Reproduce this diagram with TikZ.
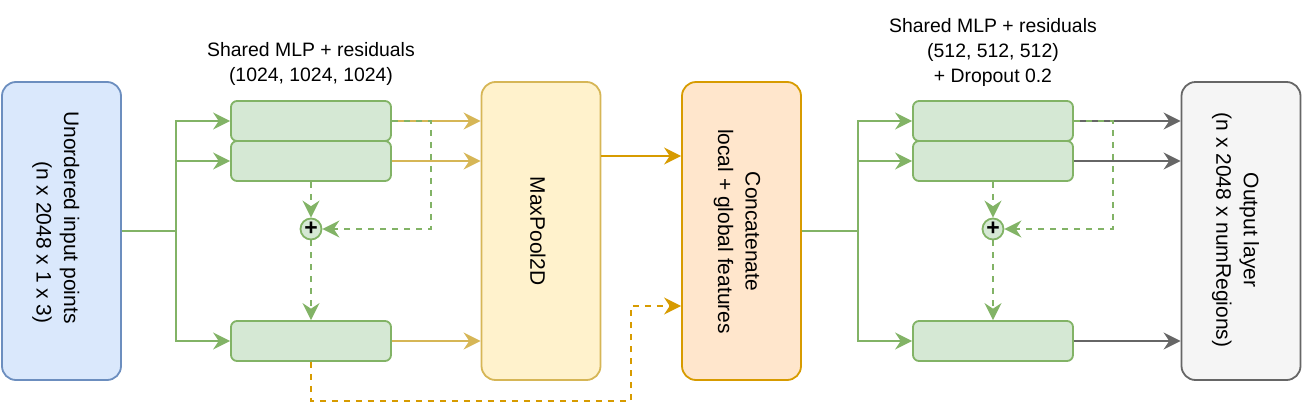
\documentclass[tikz,border=0pt]{standalone}
\usepackage{fontspec}
\setmainfont{Liberation Sans}
\usetikzlibrary{arrows.meta}
\definecolor{bluef}{HTML}{DAE8FC}
\definecolor{blued}{HTML}{6C8EBF}
\definecolor{greenf}{HTML}{D5E8D4}
\definecolor{greend}{HTML}{82B366}
\definecolor{yellowf}{HTML}{FFF2CC}
\definecolor{yellowd}{HTML}{D6B656}
\definecolor{orangef}{HTML}{FFE6CC}
\definecolor{oranged}{HTML}{D79B00}
\definecolor{grayf}{HTML}{F5F5F5}
\definecolor{grayd}{HTML}{666666}
\begin{document}
\begin{tikzpicture}[x=0.5pt,y=-0.5pt,
  >={Stealth[length=8.5pt,width=8.5pt,inset=2.8pt]},
  line width=0.9pt,
  bigbox/.style={draw, rounded corners=7pt, minimum width=59.5pt, minimum height=149pt, inner sep=0pt},
  mlp/.style={draw=greend, fill=greenf, rounded corners=3pt, minimum width=80pt, minimum height=20pt, inner sep=0pt},
  plusnode/.style={circle, draw=greend, fill=greenf, minimum size=10.5pt, inner sep=0pt, font=\fontsize{11.5}{12}\selectfont\bfseries},
  vtext/.style={rotate=-90, align=center, inner sep=0pt, font=\fontsize{10.5}{13.8}\selectfont},
  lbl/.style={align=center, inner sep=0pt, font=\fontsize{9.7}{12.5}\selectfont},
  gline/.style={draw=greend},
  gdash/.style={draw=greend, dash pattern=on 3pt off 3pt},
  yline/.style={draw=yellowd},
  oline/.style={draw=oranged},
  odash/.style={draw=oranged, dash pattern=on 3pt off 3pt},
  kline/.style={draw=grayd}
]
\path[use as bounding box] (0,0) rectangle (1302,418);

% big boxes
\node[bigbox, draw=blued, fill=bluef] (in) at (61.5,231) {};
\node[vtext, align=right] (intext) at (55.8,217.4) {Unordered input points\\(n x 2048 x 1 x 3)};
\node[bigbox, draw=yellowd, fill=yellowf] (mp) at (541,231) {};
\node[vtext] (mptext) at (538,231) {MaxPool2D};
\node[bigbox, draw=oranged, fill=orangef] (cc) at (741.5,231) {};
\node[vtext] (cctext) at (737,231.5) {Concatenate\\local + global features};
\node[bigbox, draw=grayd, fill=grayf] (out) at (1241,231) {};
\node[vtext] (outtext) at (1235.5,230) {Output layer\\(n x 2048 x numRegions)};

% MLP blocks
\node[mlp] (m1) at (311,121) {};
\node[mlp] (m2) at (311,161) {};
\node[mlp] (m3) at (311,341) {};
\node[plusnode] (p1) at (311,229) {+};
\node[mlp] (r1) at (993,121) {};
\node[mlp] (r2) at (993,161) {};
\node[mlp] (r3) at (993,341) {};
\node[plusnode] (p2) at (993,229) {+};

% labels
\node[lbl] (lab1) at (311,64.4) {Shared MLP + residuals\\(1024, 1024, 1024)};
\node[lbl] (lab2) at (993,52.5) {Shared MLP + residuals\\(512, 512, 512)\\+ Dropout 0.2};

% helper coordinates
\coordinate (j1) at (176,231);
\coordinate (k1) at (431,121);
\coordinate (d1) at (631,401);
\coordinate (d2) at (631,306);
\coordinate (ya) at (640,156);
\coordinate (j2) at (858,231);
\coordinate (k2) at (1113,121);

% left part
\draw[gline] (in.east |- j1) -- (j1);
\draw[gline,->] (j1) |- (m1.west);
\draw[gline,->] (j1) |- (m2.west);
\draw[gline,->] (j1) |- (m3.west);
\draw[yline,->] (m1.east) -- (m1.east -| mp.west);
\draw[yline,->] (m2.east) -- (m2.east -| mp.west);
\draw[yline,->] (m3.east) -- (m3.east -| mp.west);
\draw[gdash,->] (m1.east) -- (m1.east -| k1) -- (k1 |- p1.east) -- (p1.east);
\draw[gdash,->] (m2.south) -- (p1.north);
\draw[gdash,->] (p1.south) -- (m3.north);
\draw[odash,->] (m3.south) -- (m3.south |- d1) -- (d1) -- (d2) -- (cc.west |- d2);
\draw[oline,->] (mp.east |- ya) -- (cc.west |- ya);

% right part
\draw[gline] (cc.east |- j2) -- (j2);
\draw[gline,->] (j2) |- (r1.west);
\draw[gline,->] (j2) |- (r2.west);
\draw[gline,->] (j2) |- (r3.west);
\draw[kline,->] (r1.east) -- (r1.east -| out.west);
\draw[kline,->] (r2.east) -- (r2.east -| out.west);
\draw[kline,->] (r3.east) -- (r3.east -| out.west);
\draw[gdash,->] (r1.east) -- (r1.east -| k2) -- (k2 |- p2.east) -- (p2.east);
\draw[gdash,->] (r2.south) -- (p2.north);
\draw[gdash,->] (p2.south) -- (r3.north);
\end{tikzpicture}
\end{document}
